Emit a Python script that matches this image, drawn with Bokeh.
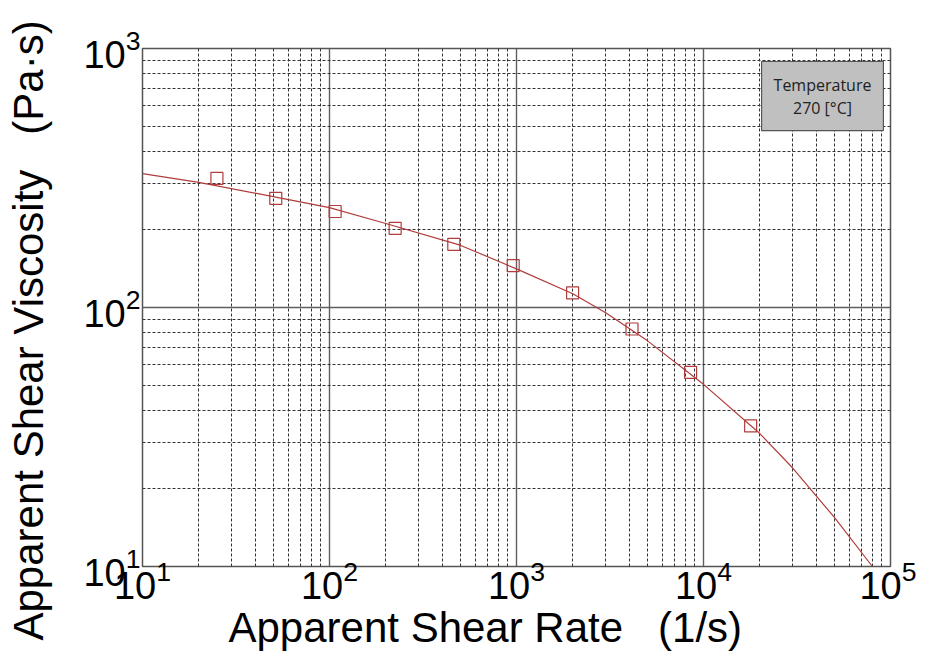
from bokeh.plotting import figure
from bokeh.models import Label, FixedTicker, LogTickFormatter, Range1d, Title
from bokeh.embed import file_html
from bokeh.resources import INLINE

# measured data (apparent shear rate 1/s, apparent shear viscosity Pa·s)
shear_rate = [25.0, 51.6, 107.2, 224.4, 462, 960, 1995, 4146, 8530, 17870]
viscosity = [315, 264, 234.8, 202, 175.4, 145.2, 113.9, 82.6, 56.2, 34.9]

# fitted curve
fit_rate = [10, 20, 50, 100, 200, 500, 1000, 2000, 3000, 5000, 10000, 20000, 30000, 50000, 80000]
fit_visc = [329, 304, 268, 243, 211, 174, 141, 113, 95.5, 74.5, 50.5, 32.6, 24, 15.5, 10]

x_ticks = [10, 100, 1000, 10000, 100000]
y_ticks = [10, 100, 1000]
minor_mantissas = [2, 3, 4, 5, 6, 7, 8, 9]

x_title = "Apparent Shear Rate\u00a0\u00a0\u00a0(1/s)"
y_title = "Apparent Shear Viscosity\u00a0\u00a0\u00a0(Pa·s)"
box_text = "Temperature\n270 [°C]"

RED = "#b03c3c"


def minors(ticks):
    return [m * t for t in ticks[:-1] for m in minor_mantissas]


p = figure(width=916, height=652, x_axis_type="log", y_axis_type="log",
           x_range=Range1d(x_ticks[0], x_ticks[-1]), y_range=Range1d(y_ticks[0], y_ticks[-1]),
           output_backend="svg", toolbar_location=None,
           min_border_left=142, min_border_top=48, min_border_right=26, min_border_bottom=86)

p.xaxis.ticker = FixedTicker(ticks=x_ticks, minor_ticks=minors(x_ticks))
p.yaxis.ticker = FixedTicker(ticks=y_ticks, minor_ticks=minors(y_ticks))
p.xaxis.formatter = LogTickFormatter()
p.yaxis.formatter = LogTickFormatter()

p.line(fit_rate, fit_visc, line_color=RED, line_width=1.2)
p.scatter(shear_rate, viscosity, marker="square", size=12, fill_color=None,
          line_color=RED, line_width=1.2)

for ax in (p.xaxis[0], p.yaxis[0]):
    ax.major_label_text_font = "Liberation Sans"
    ax.major_label_text_font_size = "38px"
    ax.major_label_text_color = "black"
    ax.axis_line_color = None
    ax.major_tick_out = 0
    ax.major_tick_in = 0
    ax.minor_tick_out = 0
    ax.minor_tick_in = 0

p.xaxis.major_label_standoff = -7
p.yaxis.major_label_standoff = 2

p.grid.grid_line_color = "#5e5e5e"
p.grid.grid_line_width = 1.4
p.grid.minor_grid_line_color = "#333333"
p.grid.minor_grid_line_dash = "3 2"
p.grid.minor_grid_line_width = 1

p.outline_line_color = "#555555"
p.outline_line_width = 1.5
p.background_fill_color = "white"
p.border_fill_color = "white"

# axis titles as side-panel titles
p.add_layout(Title(text=x_title, align="left", offset=86, standoff=0,
                   text_font="Liberation Sans", text_font_size="42px",
                   text_font_style="normal", text_color="black"), "below")
# blank spacer between the y tick labels and the y title
p.add_layout(Title(text="\u00a0", standoff=0, text_font_size="24px"), "left")
p.add_layout(Title(text=y_title, align="left", offset=-74, standoff=0,
                   text_font="Liberation Sans", text_font_size="42px",
                   text_font_style="normal", text_color="black"), "left")

lab = Label(x=680, y=505, x_units="screen", y_units="screen", text=box_text,
            text_font="Open Sans", text_font_size="16px", text_color="#222222",
            text_align="center", text_baseline="top", text_line_height=1.05,
            background_fill_color="#c0c0c0", border_line_color="#555555",
            border_line_width=1.2, padding=12)
p.add_layout(lab)

open("out.html", "w").write(file_html(p, INLINE))
